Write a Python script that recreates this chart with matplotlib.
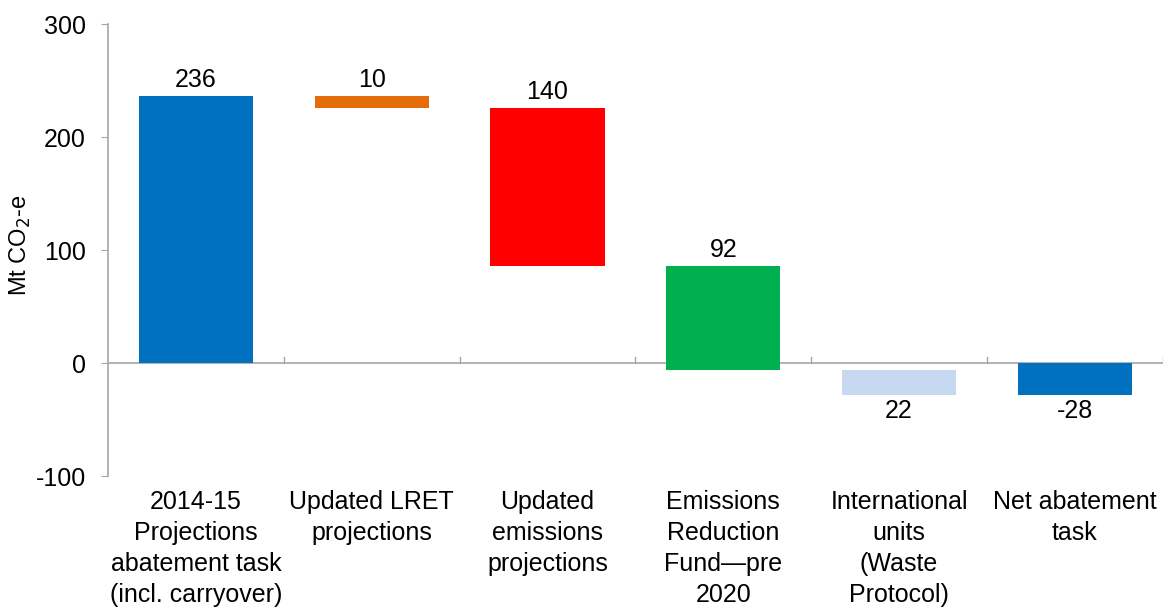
import matplotlib
matplotlib.use("Agg")
import matplotlib.pyplot as plt
import numpy as np

plt.rcParams['font.family'] = ['Liberation Sans', 'DejaVu Sans']
plt.rcParams['axes.unicode_minus'] = False

# Waterfall data (Mt CO2-e)
categories = [
    "2014-15\nProjections\nabatement task\n(incl. carryover)",
    "Updated LRET\nprojections",
    "Updated\nemissions\nprojections",
    "Emissions\nReduction\nFund\u2014pre\n2020",
    "International\nunits\n(Waste\nProtocol)",
    "Net abatement\ntask",
]
start_value = 236
reductions = [10, 140, 92, 22]
net_value = -28
colors = ["#0070C0", "#E46C0A", "#FF0000", "#00B050", "#C6D9F1", "#0070C0"]

# Build the floating bars
bottoms, heights, labels = [0], [start_value], [str(start_value)]
level = start_value
for r in reductions:
    bottoms.append(level - r)
    heights.append(r)
    labels.append(str(r))
    level -= r
bottoms.append(0)
heights.append(net_value)
labels.append(str(net_value))

fig = plt.figure(figsize=(11.68, 6.08), dpi=100)
ax = fig.add_axes([0.0925, 0.217, 0.903, 0.7435])

x = np.arange(len(categories))
ax.bar(x, heights, bottom=bottoms, width=0.65, color=colors, zorder=2)

ax.set_xlim(-0.5, len(categories) - 0.5)
ax.set_ylim(-100, 300)
ax.set_yticks([-100, 0, 100, 200, 300])
ax.tick_params(axis='y', length=5, color='#A6A6A6', labelsize=18, pad=11)

for s in ['top', 'right', 'bottom']:
    ax.spines[s].set_visible(False)
ax.spines['left'].set_color('#A6A6A6')
ax.spines['left'].set_linewidth(1.2)

# zero line with category separators
ax.axhline(0, color='#A6A6A6', lw=1.2, zorder=1)
for b in np.arange(0.5, len(categories), 1.0):
    ax.plot([b, b], [0, 5], color='#A6A6A6', lw=1.0, zorder=1)

ax.set_xticks([])
for xi, cat in zip(x, categories):
    ax.text(xi, -112, cat, ha='center', va='top', fontsize=18,
            linespacing=1.37, clip_on=False)

# value labels: above the bar for the first four, below for the rest
for i, (b, h, lab) in enumerate(zip(bottoms, heights, labels)):
    if i < 4:
        ax.text(x[i], max(b, b + h) + 3.5, lab, ha='center', va='bottom', fontsize=18)
    else:
        ax.text(x[i], min(b, b + h) - 4, lab, ha='center', va='top', fontsize=18)

fig.text(20 / 1168, 1 - 245 / 608, "Mt CO$_2$-e", rotation=90,
         ha='center', va='center', fontsize=17)

fig.savefig("out.png", dpi=100)
